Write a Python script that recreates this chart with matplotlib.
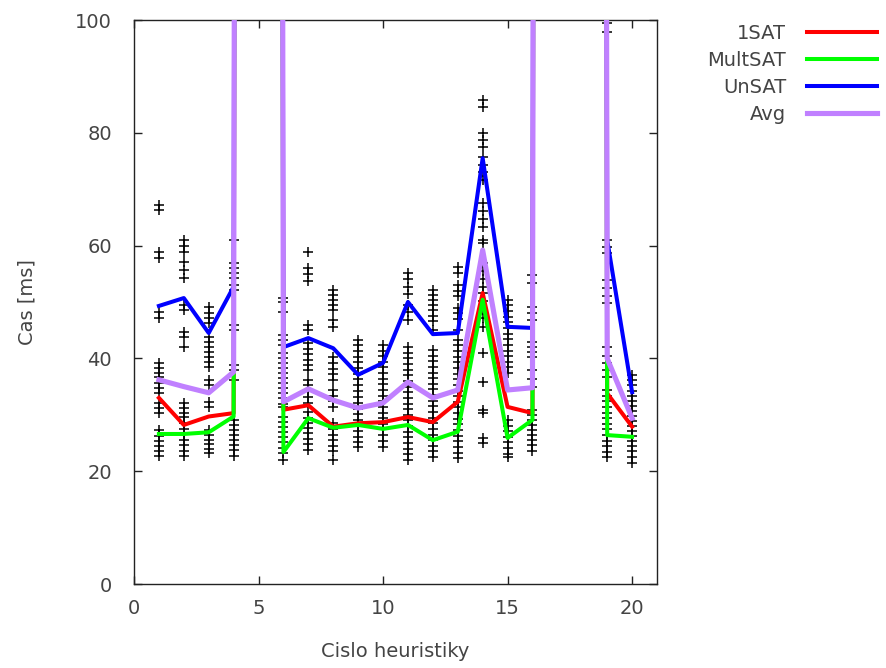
import matplotlib
matplotlib.use("Agg")
import matplotlib.pyplot as plt

# heuristic numbers; 5, 17 and 18 ran far above the visible range
heur = list(range(1, 21))
sat1 = [33.0, 28.2, 29.7, 30.3, 2400, 30.9, 31.7, 27.9, 28.5, 28.7,
        29.6, 28.7, 32.3, 51.6, 31.4, 30.3, 2600, 2500, 33.8, 27.9]
multsat = [26.6, 26.6, 26.9, 29.7, 2300, 23.4, 29.4, 27.7, 28.2, 27.5,
           28.2, 25.5, 27.0, 50.4, 25.9, 29.1, 2450, 2350, 26.4, 26.1]
unsat = [49.3, 50.7, 44.5, 52.7, 2700, 42.0, 43.6, 41.8, 37.1, 39.2,
         50.0, 44.3, 44.5, 75.5, 45.6, 45.4, 2900, 2800, 61.0, 34.0]
avg = [36.2, 35.0, 33.9, 37.6, 2500, 32.3, 34.6, 32.6, 31.2, 32.1,
       35.8, 33.0, 34.4, 59.2, 34.4, 34.8, 2650, 2550, 40.0, 29.4]

# individual runs per heuristic
h1 = [67.2, 66.3, 58.9, 57.8, 48.3, 47.1, 39.2, 38.3, 37.5, 36.7, 35.6, 34.8,
      33.9, 32.1, 31.2, 30.3, 27.3, 26.3, 25.4, 24.5, 23.6, 22.7]
h2 = [61.0, 59.9, 58.9, 57.1, 55.7, 54.2, 49.5, 48.6, 44.7, 43.8, 42.1, 32.1,
      31.2, 30.4, 29.6, 28.5, 27.5, 26.6, 25.6, 24.6, 23.6, 22.7]
h3 = [49.1, 48.1, 47.2, 46.3, 43.8, 42.9, 42.0, 41.1, 40.2, 39.3, 38.5, 36.2,
      35.3, 32.3, 31.4, 27.3, 26.4, 25.6, 24.8, 24.0, 23.2]
h4 = [61.0, 56.9, 56.0, 55.1, 54.2, 53.0, 52.1, 45.9, 45.0, 38.8, 37.9, 36.2,
      29.1, 28.2, 27.3, 26.4, 25.5, 24.6, 23.7, 22.7]
h6 = [50.7, 50.0, 48.2, 44.1, 43.2, 42.4, 41.0, 40.1, 39.2, 38.3, 37.4, 36.5,
      35.6, 34.7, 33.8, 32.9, 32.0, 31.4, 29.6, 28.7, 27.8, 26.9, 26.0, 25.1,
      24.2, 23.3, 22.0]
h7 = [58.9, 56.0, 54.9, 53.8, 45.9, 45.0, 42.7, 41.7, 40.7, 39.8, 38.9, 37.9,
      36.2, 35.2, 34.2, 33.1, 32.1, 30.5, 29.5, 28.5, 27.6, 26.7, 25.7, 24.8, 23.8]
h8 = [52.1, 51.2, 50.3, 49.4, 48.5, 46.8, 45.6, 40.2, 39.2, 38.2, 37.2, 36.2,
      34.4, 33.4, 32.4, 31.4, 28.5, 27.5, 26.5, 25.5, 24.5, 23.5, 22.0]
h9 = [43.3, 42.3, 41.3, 40.3, 39.3, 38.3, 37.3, 36.3, 35.3, 34.3, 33.2, 32.1,
      31.1, 30.1, 29.1, 28.1, 27.1, 26.1, 25.1, 24.3]
h10 = [42.4, 41.4, 40.4, 39.4, 38.4, 37.4, 36.4, 35.4, 34.4, 33.4, 32.4, 31.4,
       30.4, 29.4, 28.4, 27.4, 26.4, 25.4, 24.3]
h11 = [55.1, 54.0, 52.6, 51.5, 49.5, 48.2, 46.8, 42.0, 41.0, 40.0, 39.0, 38.0,
       37.0, 36.0, 35.0, 34.0, 33.0, 32.0, 31.0, 30.0, 29.0, 28.0, 27.0, 26.0,
       25.0, 24.0, 23.0, 22.0]
h12 = [52.1, 51.2, 50.3, 49.4, 48.5, 47.6, 46.7, 45.0, 41.5, 40.5, 39.5, 38.5,
       37.5, 36.5, 35.5, 34.5, 33.5, 32.5, 31.5, 30.5, 29.5, 28.5, 27.5, 26.5,
       25.5, 24.5, 23.5, 22.5]
h13 = [56.2, 55.2, 53.0, 52.0, 51.0, 49.0, 48.0, 47.0, 45.0, 43.3, 42.3, 41.3,
       40.3, 39.3, 38.3, 37.3, 36.3, 35.3, 34.3, 33.3, 32.3, 31.3, 30.3, 29.3,
       28.3, 27.3, 26.3, 25.3, 24.3, 23.3, 22.3]
h14 = [85.8, 84.6, 80.0, 78.7, 77.5, 75.7, 74.3, 73.0, 71.6, 67.5, 66.1, 64.7,
       63.3, 61.0, 60.4, 56.9, 55.5, 54.1, 52.7, 51.6, 50.1, 48.6, 47.1, 45.6,
       41.0, 35.8, 30.9, 30.3, 25.9, 25.0]
h15 = [50.4, 49.4, 48.4, 47.4, 46.4, 45.4, 44.4, 43.4, 42.4, 41.4, 40.4, 39.4,
       38.4, 37.4, 29.1, 28.1, 27.1, 26.1, 25.1, 24.1, 23.1, 22.5]
h16 = [54.8, 53.4, 49.1, 48.0, 46.8, 42.9, 42.0, 41.1, 40.2, 37.9, 36.4, 34.9,
       30.9, 30.0, 29.1, 28.2, 27.3, 26.4, 25.5, 24.6, 23.6]
h19 = [99.5, 97.9, 61.0, 59.8, 58.7, 53.9, 52.5, 51.1, 49.8, 42.0, 40.5, 39.2,
       37.9, 36.7, 34.4, 33.4, 32.4, 31.4, 30.4, 29.4, 28.4, 27.4, 26.4, 25.4,
       24.4, 23.4, 22.5]
h20 = [37.0, 36.1, 35.2, 34.3, 33.4, 32.5, 31.6, 30.7, 29.8, 28.9, 28.0, 27.1,
       26.2, 25.3, 24.4, 23.5, 22.5, 21.5]

runs = [(1, h1), (2, h2), (3, h3), (4, h4), (6, h6), (7, h7), (8, h8),
        (9, h9), (10, h10), (11, h11), (12, h12), (13, h13), (14, h14),
        (15, h15), (16, h16), (19, h19), (20, h20)]

txt = "#444444"
fsize = 14

fig = plt.figure(figsize=(8.87, 6.68), dpi=100)
ax = fig.add_axes([134 / 887, 84 / 668, 523 / 887, 564 / 668])

for x, ys in runs:
    ax.plot([x] * len(ys), ys, linestyle="none", marker="+", color="black",
            ms=7, mew=1.1, zorder=2)

ax.plot(heur, sat1, color="#ff0000", lw=2.9, label="1SAT", zorder=3)
ax.plot(heur, multsat, color="#00ff00", lw=2.9, label="MultSAT", zorder=3)
ax.plot(heur, unsat, color="#0000ff", lw=2.9, label="UnSAT", zorder=3)
ax.plot(heur, avg, color="#c080ff", lw=3.7, label="Avg", zorder=3)

ax.set_xlim(0, 21)
ax.set_ylim(0, 100)
ax.set_xticks([0, 5, 10, 15, 20])
ax.set_yticks([0, 20, 40, 60, 80, 100])
ax.tick_params(direction="in", top=True, right=True, length=6, width=1,
               labelsize=fsize, colors="#222222", labelcolor=txt)
ax.tick_params(axis="y", pad=16)
ax.tick_params(axis="x", pad=11)
for sp in ax.spines.values():
    sp.set_color("#222222")
    sp.set_linewidth(1.0)

ax.set_xlabel("Cislo heuristiky", fontsize=fsize, color=txt, labelpad=17)
ax.set_ylabel("Cas [ms]", fontsize=fsize, color=txt, labelpad=28)

leg = fig.legend(loc="upper right", bbox_to_anchor=(1.008, 0.99),
                 markerfirst=False, frameon=False, fontsize=fsize,
                 handlelength=3.6, handletextpad=1.05, labelspacing=0.4)
for t in leg.get_texts():
    t.set_color(txt)
    t.set_ha("right")

fig.savefig("out.png", dpi=100)
